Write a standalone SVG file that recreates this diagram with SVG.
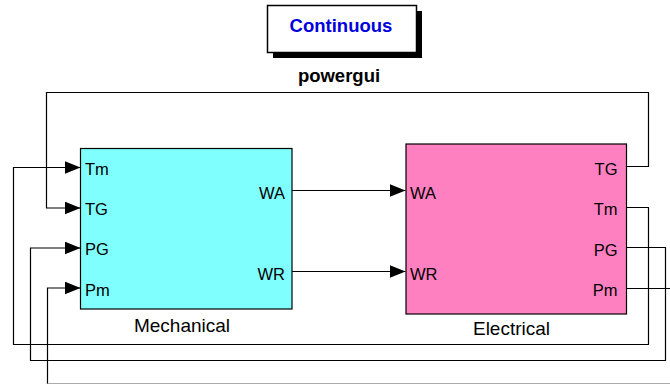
<svg xmlns="http://www.w3.org/2000/svg" width="670" height="385" viewBox="0 0 670 385">
  <style>
    .wire { fill: none; stroke: #000; stroke-width: 1.2; }
    .blk { stroke: #000; stroke-width: 1.2; }
    .port { font-family: "Liberation Sans", Arial, sans-serif; font-size: 16.5px; fill: #000; }
    .name { font-family: "Liberation Sans", Arial, sans-serif; font-size: 19px; fill: #000; text-anchor: middle; }
  </style>
  <defs>
    <marker id="arr" markerUnits="userSpaceOnUse" markerWidth="17" markerHeight="14" refX="16" refY="6.5" orient="auto">
      <path d="M0,0 L16,6.5 L0,13 Z" fill="#000"/>
    </marker>
  </defs>
  <rect width="670" height="385" fill="#fff"/>

  <g id="powergui">
    <rect x="273" y="11" width="149" height="47" fill="#000"/>
    <rect x="267.5" y="5.5" width="149" height="47" fill="#fff" stroke="#000" stroke-width="1.5"/>
    <text x="341" y="31.5" font-family="Liberation Sans, Arial, sans-serif" font-size="18.5" font-weight="bold" fill="#0000dd" text-anchor="middle">Continuous</text>
    <text x="339" y="82" font-family="Liberation Sans, Arial, sans-serif" font-size="18.5" font-weight="bold" fill="#000" text-anchor="middle">powergui</text>
  </g>

  <g id="mechanical">
    <rect class="blk" x="80.5" y="148.5" width="211.5" height="160.5" fill="#80ffff"/>
    <text class="port" x="85" y="175">Tm</text>
    <text class="port" x="85" y="215">TG</text>
    <text class="port" x="85" y="255">PG</text>
    <text class="port" x="85" y="295.5">Pm</text>
    <text class="port" x="285" y="198.5" text-anchor="end">WA</text>
    <text class="port" x="285" y="280" text-anchor="end">WR</text>
    <text class="name" x="182" y="331.5">Mechanical</text>
  </g>

  <g id="electrical">
    <rect class="blk" x="406" y="144" width="220.5" height="170" fill="#ff80c0"/>
    <text class="port" x="410" y="198.5">WA</text>
    <text class="port" x="410" y="280">WR</text>
    <text class="port" x="617.5" y="174.5" text-anchor="end">TG</text>
    <text class="port" x="617.5" y="215" text-anchor="end">Tm</text>
    <text class="port" x="617.5" y="255.5" text-anchor="end">PG</text>
    <text class="port" x="617.5" y="295.5" text-anchor="end">Pm</text>
    <text class="name" x="511.5" y="335">Electrical</text>
  </g>

  <g id="connectors">
    <path class="wire" d="M292,190.5 H405.5" marker-end="url(#arr)"/>
    <path class="wire" d="M292,271.5 H405.5" marker-end="url(#arr)"/>
    <path class="wire" d="M626.5,166.5 H648.5 V92.5 H46.5 V208 H80.5" marker-end="url(#arr)"/>
    <path class="wire" d="M626.5,207.5 H648.5 V344.5 H13.5 V167.5 H80.5" marker-end="url(#arr)"/>
    <path class="wire" d="M626.5,247.5 H665.5 V360.5 H30.5 V248 H80.5" marker-end="url(#arr)"/>
    <path class="wire" d="M626.5,288.5 H670"/>
    <path class="wire" d="M47.5,384 V288 H80.5" marker-end="url(#arr)"/>
    <path d="M47.5,383.5 H670" fill="none" stroke="#aaa" stroke-width="1"/>
  </g>
</svg>
